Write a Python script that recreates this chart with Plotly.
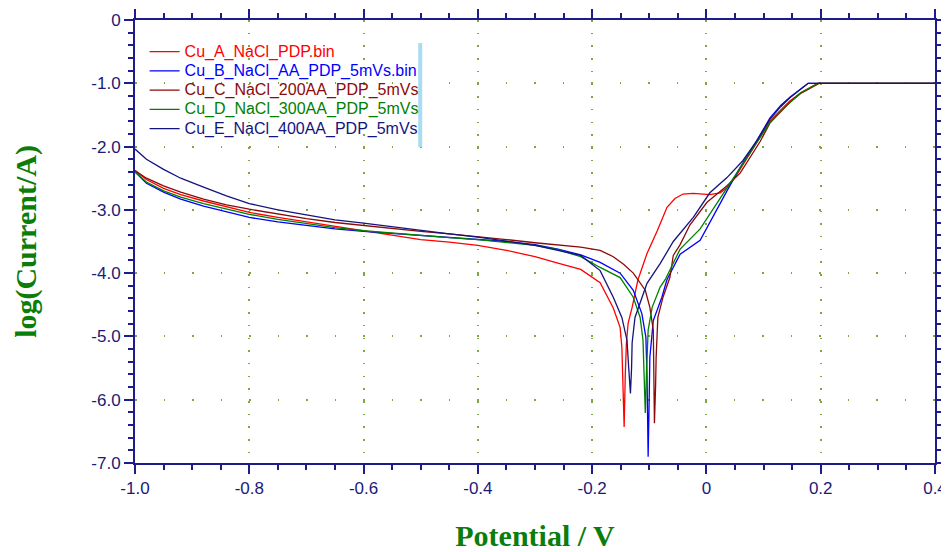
import plotly.graph_objects as go

# ---------------- data ----------------
series_names = ["Cu_A_NaCl_PDP.bin", "Cu_B_NaCl_AA_PDP_5mVs.bin", "Cu_C_NaCl_200AA_PDP_5mVs",
                "Cu_D_NaCl_300AA_PDP_5mVs", "Cu_E_NaCl_400AA_PDP_5mVs"]
series_colors = ["#ff0000", "#0000ff", "#8b0a0a", "#008000", "#14147e"]

pot_A = [-1.0, -0.98, -0.95, -0.92, -0.88, -0.84, -0.8, -0.75, -0.7, -0.65, -0.6, -0.55, -0.5, -0.45,
         -0.4, -0.35, -0.3, -0.26, -0.22, -0.186, -0.163, -0.151, -0.148, -0.146, -0.144, -0.142, -0.14,
         -0.137, -0.13, -0.12, -0.104, -0.086, -0.069, -0.055, -0.041, -0.023, 0.006, 0.024, 0.036,
         0.054, 0.075, 0.094, 0.111, 0.13, 0.146, 0.165, 0.195, 0.4]
logi_A = [-2.38, -2.52, -2.66, -2.76, -2.86, -2.95, -3.04, -3.12, -3.19, -3.27, -3.34, -3.41, -3.47, -3.51,
          -3.56, -3.64, -3.74, -3.84, -3.94, -4.15, -4.55, -4.86, -5.17, -5.8, -6.43, -5.6, -5.1,
          -4.79, -4.54, -4.11, -3.69, -3.33, -2.96, -2.82, -2.75, -2.74, -2.76, -2.73, -2.65,
          -2.43, -2.12, -1.86, -1.6, -1.42, -1.28, -1.15, -1.0, -1.0]

pot_B = [-1.0, -0.98, -0.95, -0.92, -0.88, -0.84, -0.8, -0.75, -0.7, -0.65, -0.6, -0.55, -0.5, -0.45,
         -0.4, -0.35, -0.3, -0.26, -0.22, -0.186, -0.151, -0.128, -0.113, -0.106, -0.104, -0.102, -0.1,
         -0.099, -0.093, -0.078, -0.069, -0.046, -0.011, 0.012, 0.036, 0.059, 0.088, 0.111, 0.13,
         0.146, 0.178, 0.4]
logi_B = [-2.4, -2.58, -2.72, -2.83, -2.94, -3.03, -3.12, -3.19, -3.25, -3.3, -3.34, -3.37, -3.4, -3.43,
          -3.46, -3.5, -3.55, -3.62, -3.71, -3.83, -4.0, -4.27, -4.64, -5.01, -5.6, -6.9, -5.9,
          -5.33, -4.75, -4.38, -4.1, -3.7, -3.48, -3.09, -2.7, -2.33, -1.91, -1.55, -1.35,
          -1.22, -1.0, -1.0]

pot_C = [-1.0, -0.98, -0.95, -0.92, -0.88, -0.84, -0.8, -0.75, -0.7, -0.65, -0.6, -0.55, -0.5, -0.45,
         -0.4, -0.35, -0.3, -0.26, -0.22, -0.186, -0.163, -0.145, -0.128, -0.107, -0.099, -0.093, -0.092,
         -0.091, -0.089, -0.088, -0.085, -0.076, -0.064, -0.058, -0.046, -0.029, 0.001, 0.036, 0.059,
         0.094, 0.111, 0.13, 0.146, 0.165, 0.198, 0.4]
logi_C = [-2.38, -2.5, -2.62, -2.72, -2.83, -2.92, -2.99, -3.07, -3.14, -3.2, -3.25, -3.3, -3.34, -3.38,
          -3.42, -3.47, -3.52, -3.56, -3.59, -3.64, -3.74, -3.86, -4.0, -4.27, -4.54, -4.9, -5.6,
          -6.37, -5.8, -5.33, -4.7, -4.38, -4.07, -3.72, -3.55, -3.24, -2.88, -2.62, -2.42,
          -1.92, -1.63, -1.45, -1.3, -1.16, -1.0, -1.0]

pot_D = [-1.0, -0.98, -0.95, -0.92, -0.88, -0.84, -0.8, -0.75, -0.7, -0.65, -0.6, -0.55, -0.5, -0.45,
         -0.4, -0.35, -0.3, -0.26, -0.22, -0.186, -0.151, -0.128, -0.116, -0.111, -0.109, -0.107, -0.105,
         -0.102, -0.095, -0.081, -0.072, -0.058, -0.046, -0.011, 0.018, 0.047, 0.082, 0.111, 0.13,
         0.146, 0.165, 0.195, 0.4]
logi_D = [-2.4, -2.56, -2.7, -2.8, -2.9, -2.99, -3.07, -3.15, -3.22, -3.28, -3.33, -3.37, -3.41, -3.44,
          -3.47, -3.51, -3.56, -3.63, -3.74, -3.91, -4.07, -4.38, -4.7, -5.06, -5.6, -6.21, -5.6,
          -4.9, -4.54, -4.22, -4.1, -3.85, -3.62, -3.3, -2.9, -2.49, -2.02, -1.62, -1.44,
          -1.3, -1.15, -1.0, -1.0]

pot_E = [-1.0, -0.98, -0.95, -0.92, -0.88, -0.84, -0.8, -0.75, -0.7, -0.65, -0.6, -0.55, -0.5, -0.45,
         -0.4, -0.35, -0.3, -0.26, -0.22, -0.186, -0.163, -0.148, -0.139, -0.136, -0.133, -0.131, -0.13,
         -0.125, -0.104, -0.081, -0.058, -0.023, 0.006, 0.036, 0.064, 0.088, 0.111, 0.13, 0.146,
         0.178, 0.4]
logi_E = [-2.04, -2.2, -2.36, -2.5, -2.64, -2.78, -2.9, -3.0, -3.08, -3.16, -3.21, -3.27, -3.32, -3.38,
          -3.43, -3.5, -3.56, -3.64, -3.72, -3.96, -4.38, -4.7, -5.06, -5.5, -5.9, -5.5, -5.1,
          -4.7, -4.16, -3.85, -3.5, -3.12, -2.73, -2.49, -2.22, -1.91, -1.57, -1.37, -1.23,
          -1.0, -1.0]

x_tickvals = [-1.0, -0.8, -0.6, -0.4, -0.2, 0.0, 0.2, 0.4]
x_ticktext = ["-1.0", "-0.8", "-0.6", "-0.4", "-0.2", "0", "0.2", "0.4"]
y_tickvals = [0, -1, -2, -3, -4, -5, -6, -7]
y_ticktext = ["0", "-1.0", "-2.0", "-3.0", "-4.0", "-5.0", "-6.0", "-7.0"]

# ---------------- figure ----------------
pots = [pot_A, pot_B, pot_C, pot_D, pot_E]
logis = [logi_A, logi_B, logi_C, logi_D, logi_E]

fig = go.Figure()
for name, col, xs, ys in zip(series_names, series_colors, pots, logis):
    fig.add_trace(go.Scatter(
        x=xs, y=ys, mode="lines",
        line=dict(color=col, width=1.3),
        name=f'<span style="color:{col};font-size:16px">{name}</span>',
    ))

axis_col = "#1c1c8a"
tick_font = dict(family="Liberation Sans, Arial, sans-serif", size=17, color="#1a1a78")
title_font = dict(family="Liberation Serif, Times New Roman, serif", size=30, color="#0b7d0b")
grid_col = "#7fa640"

fig.update_xaxes(
    range=[-1.0, 0.4], tickvals=x_tickvals, ticktext=x_ticktext, automargin=False,
    showline=True, linecolor=axis_col, linewidth=2, mirror="allticks",
    ticks="outside", ticklen=9, tickwidth=1.5, tickcolor=axis_col,
    minor=dict(dtick=0.05, ticks="outside", ticklen=5, tickwidth=1.5, tickcolor=axis_col, showgrid=False),
    showgrid=True, gridcolor=grid_col, gridwidth=1.5, griddash="1.5px,11.2px",
    zeroline=False, tickfont=tick_font,
    title=dict(text="<b>Potential / V</b>", font=title_font, standoff=37),
)
fig.update_yaxes(
    range=[-7.0, 0.0], tickvals=y_tickvals, ticktext=y_ticktext, automargin=False,
    showline=True, linecolor=axis_col, linewidth=2, mirror="allticks",
    ticks="outside", ticklen=9, tickwidth=1.5, tickcolor=axis_col,
    minor=dict(dtick=0.2, ticks="outside", ticklen=5, tickwidth=1.5, tickcolor=axis_col, showgrid=False),
    showgrid=True, gridcolor=grid_col, gridwidth=1.5, griddash="1.5px,27px",
    zeroline=False, tickfont=tick_font,
    title=dict(text="<b>log(Current/A)</b>", font=title_font, standoff=46),
)

fig.add_shape(type="rect", xref="paper", yref="paper",
              x0=0.354, x1=0.359, y0=0.713, y1=0.948,
              line=dict(width=0), fillcolor="#a9dcf2")

# the page body adds an 8px offset, so the figure is 8px smaller and the
# left/top margins are 8px smaller to land the plot area where the reference has it
fig.update_layout(
    width=941, height=544,
    margin=dict(l=127, r=14, t=12, b=89, autoexpand=False),
    plot_bgcolor="white", paper_bgcolor="white",
    showlegend=True,
    legend=dict(x=0.012, y=0.9615, xanchor="left", yanchor="top",
                bgcolor="rgba(0,0,0,0)", itemwidth=30, tracegroupgap=0,
                font=dict(family="Liberation Sans, Arial, sans-serif", size=12.5)),
)

fig.write_html("out.html")
